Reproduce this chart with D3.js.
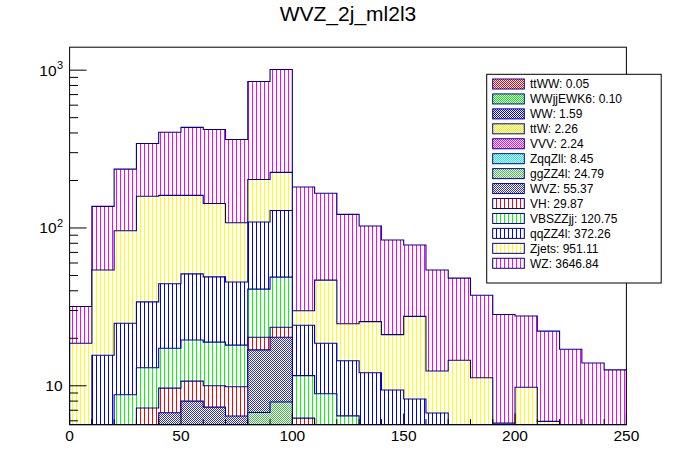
<!DOCTYPE html>
<html>
<head>
<meta charset="utf-8">
<script src="https://cdn.jsdelivr.net/npm/d3@7"></script>
<style>
  body { margin: 0; background: #fff; }
  text { font-family: "Liberation Sans", Arial, sans-serif; }
</style>
</head>
<body>
<script>
// bin edges (GeV)
var binEdges = [0, 10, 20, 30, 40, 50, 60, 70, 80, 90, 100, 110, 120, 130, 140, 150, 160, 170, 180, 190, 200, 210, 220, 230, 240, 250];

// per-bin yields, bottom of stack first
var ttWW     = [0, 0, 0, 0, 0.01, 0.01, 0.01, 0.01, 0.01, 0, 0, 0, 0, 0, 0, 0, 0, 0, 0, 0, 0, 0, 0, 0, 0];
var WWjjEWK6 = [0, 0, 0, 0.02, 0.02, 0.02, 0.02, 0.02, 0, 0, 0, 0, 0, 0, 0, 0, 0, 0, 0, 0, 0, 0, 0, 0, 0];
var WW       = [0, 0.1, 0.1, 0.1, 0.15, 0.15, 0.15, 0.1, 0.2, 0.2, 0.1, 0.06, 0.05, 0.04, 0.03, 0.02, 0.02, 0.01, 0.01, 0, 0, 0, 0, 0, 0];
var ttW      = [0, 0.05, 0.1, 0.15, 0.2, 0.2, 0.2, 0.15, 0.2, 0.2, 0.15, 0.12, 0.1, 0.08, 0.06, 0.05, 0.05, 0.04, 0.03, 0.03, 0.02, 0.02, 0.02, 0.02, 0.02];
var VVV      = [0.02, 0.05, 0.08, 0.1, 0.12, 0.12, 0.12, 0.12, 0.24, 0.26, 0.15, 0.12, 0.1, 0.09, 0.08, 0.07, 0.06, 0.06, 0.05, 0.05, 0.04, 0.04, 0.04, 0.03, 0.03];
var ZqqZll   = [0.1, 0.3, 0.4, 0.5, 0.6, 0.6, 0.6, 0.5, 1.0, 1.1, 0.6, 0.5, 0.4, 0.3, 0.25, 0.2, 0.15, 0.1, 0.1, 0.05, 0.05, 0.02, 0.02, 0.01, 0];
var ggZZ4l   = [0.1, 0.3, 0.7, 1.0, 1.2, 1.4, 1.3, 1.2, 5.13, 6.13, 1.4, 1.23, 0.8, 0.6, 0.5, 0.4, 0.3, 0.3, 0.2, 0.2, 0.1, 0.1, 0.1, 0.05, 0.05];
var WVZ      = [0.2, 0.5, 1.0, 2.0, 4.45, 5.5, 4.93, 4.33, 10.12, 12.41, 2.5, 2.0, 1.5, 1.0, 0.8, 0.6, 0.5, 0.3, 0.2, 0.15, 0.1, 0.1, 0.08, 0.05, 0.05];
var VH       = [0.3, 1.0, 2.0, 3.36, 2.92, 2.7, 2.67, 3.43, 3.4, 3.2, 1.34, 1.2, 0.8, 0.5, 0.4, 0.25, 0.15, 0.1, 0.05, 0.05, 0.05, 0, 0, 0, 0];
var VBSZZjj  = [1.5, 3.0, 4.39, 5.77, 7.63, 8.8, 8.9, 8.24, 20.7, 25.3, 5.36, 3.67, 2.7, 2.8, 2.5, 2.2, 1.9, 1.5, 1.2, 0.9, 0.7, 0.5, 0.3, 0.2, 0.09];
var qqZZ4l   = [3.0, 10.3, 16.13, 21.0, 27.0, 31.7, 30.1, 27.4, 68.0, 80.2, 12.6, 9.7, 7.95, 6.69, 4.78, 4.45, 3.59, 2.5, 1.8, 1.2, 0.8, 0.6, 0.4, 0.3, 0.07];
var Zjets    = [13.4, 38.6, 71.1, 125, 116.7, 109.8, 94, 62.5, 94, 96, 5.7, 28.1, 10.3, 13.4, 11.7, 19.3, 5.7, 9.6, 7.6, 3.17, 7.94, 4.57, 0.5, 0.3, 0.2];
var WZ       = [13.2, 82.8, 140, 184, 243, 273, 278, 256, 645, 784, 152.1, 119.3, 97.3, 77.5, 62.9, 50.5, 41.8, 33.6, 26.2, 22.5, 17.9, 16.25, 15.6, 13.0, 12.1];

// legend: names and integrated yields as printed
var names  = ["ttWW", "WWjjEWK6", "WW", "ttW", "VVV", "ZqqZll", "ggZZ4l", "WVZ", "VH", "VBSZZjj", "qqZZ4l", "Zjets", "WZ"];
var totals = [0.05, 0.10, 1.59, 2.26, 2.24, 8.45, 24.79, 55.37, 29.87, 120.75, 372.26, 951.11, 3646.84];
var yDecades = [10, 100, 1000];
var xTicks = [0, 50, 100, 150, 200, 250];

var seriesData = [ttWW, WWjjEWK6, WW, ttW, VVV, ZqqZll, ggZZ4l, WVZ, VH, VBSZZjj, qqZZ4l, Zjets, WZ];
var styles = [
    {c: "#ff0000", p: "cross"}, {c: "#00ee00", p: "cross"}, {c: "#0000ff", p: "cross"},
    {c: "#eeee00", p: "cross"}, {c: "#ff00ff", p: "cross"}, {c: "#00eeee", p: "cross"},
    {c: "#44bb44", p: "cross"}, {c: "#3333bb", p: "cross"},
    {c: "#ff0000", p: "vert"}, {c: "#00ff00", p: "vert"}, {c: "#0000ff", p: "vert"},
    {c: "#ffff00", p: "vert"}, {c: "#ff00ff", p: "vert"}
];
var lineColor = "#000099";
var hatchStep = 4;

var w = 696, h = 472;
var padL = 69.6, padR = 626.4, padT = 47.2, padB = 424.8;

var svg = d3.select("body").append("svg")
    .attr("width", w)
    .attr("height", h);

var xScale = d3.scaleLinear().domain([0, 250]).range([padL, padR]);
var yScale = d3.scaleLog().domain([5.66, 1398]).range([padB, padT]).clamp(true);

// checkered patterns for the small backgrounds
var defs = svg.append("defs");
styles.forEach(function (s, i) {
    if (s.p !== "cross") return;
    var pat = defs.append("pattern")
        .attr("id", "pat" + i)
        .attr("patternUnits", "userSpaceOnUse")
        .attr("width", 2).attr("height", 2);
    pat.append("rect").attr("width", 2).attr("height", 2).attr("fill", "#fff");
    pat.append("rect").attr("width", 1).attr("height", 1).attr("fill", s.c);
    pat.append("rect").attr("x", 1).attr("y", 1).attr("width", 1).attr("height", 1).attr("fill", s.c);
});

defs.append("clipPath").attr("id", "frameClip")
    .append("rect")
    .attr("x", padL).attr("y", padT)
    .attr("width", padR - padL).attr("height", padB - padT);

// vertical hatching drawn as lines inside a clip
function hatchFill(parent, clipId, x0, x1, y0, y1, color) {
    var g = parent.append("g").attr("clip-path", "url(#" + clipId + ")");
    g.append("rect")
        .attr("x", x0).attr("y", y0)
        .attr("width", x1 - x0).attr("height", y1 - y0)
        .attr("fill", "#fff");
    var n0 = Math.floor(x0 / hatchStep), n1 = Math.ceil(x1 / hatchStep);
    for (var n = n0; n <= n1; n++) {
        var xx = n * hatchStep + 0.5;
        g.append("line")
            .attr("x1", xx).attr("x2", xx)
            .attr("y1", y0).attr("y2", y1)
            .attr("stroke", color)
            .attr("stroke-width", 1)
            .attr("shape-rendering", "crispEdges");
    }
}

// cumulative stack
var stacks = [];
var run = binEdges.slice(1).map(function () { return 0; });
seriesData.forEach(function (s) {
    run = run.map(function (v, i) { return v + s[i]; });
    stacks.push(run.slice());
});

function stepPath(cum) {
    var p = "M" + xScale(binEdges[0]) + "," + padB;
    cum.forEach(function (v, i) {
        var yy = yScale(Math.max(v, 1e-3));
        p += "L" + xScale(binEdges[i]) + "," + yy + "L" + xScale(binEdges[i + 1]) + "," + yy;
    });
    p += "L" + xScale(binEdges[binEdges.length - 1]) + "," + padB;
    return p;
}

var plot = svg.append("g").attr("clip-path", "url(#frameClip)");
for (var k = stacks.length - 1; k >= 0; k--) {
    if (styles[k].p === "vert") {
        defs.append("clipPath").attr("id", "area" + k)
            .append("path").attr("d", stepPath(stacks[k]) + "Z");
        hatchFill(plot, "area" + k, padL, padR, padT, padB, styles[k].c);
    } else {
        plot.append("path")
            .attr("d", stepPath(stacks[k]) + "Z")
            .attr("fill", "url(#pat" + k + ")")
            .attr("stroke", "none");
    }
    plot.append("path")
        .attr("d", stepPath(stacks[k]))
        .attr("fill", "none")
        .attr("stroke", lineColor)
        .attr("stroke-width", 1.1);
}

// frame
svg.append("rect")
    .attr("x", padL).attr("y", padT)
    .attr("width", padR - padL).attr("height", padB - padT)
    .attr("fill", "none")
    .attr("stroke", "#000")
    .attr("stroke-width", 1);

// y axis ticks (log)
var yAxis = svg.append("g");
var yMin = yScale.domain()[0], yMax = yScale.domain()[1];
[1].concat(yDecades).forEach(function (d) {
    for (var m = 1; m <= 9; m++) {
        var v = d * m;
        if (v < yMin || v > yMax) continue;
        yAxis.append("line")
            .attr("x1", padL).attr("x2", padL + (m === 1 ? 17 : 8.5))
            .attr("y1", yScale(v)).attr("y2", yScale(v))
            .attr("stroke", "#000");
    }
});
yDecades.forEach(function (d) {
    yAxis.append("text")
        .attr("x", d === 10 ? padL - 7 : padL - 13)
        .attr("y", yScale(d) + 5.5)
        .attr("text-anchor", "end")
        .attr("font-size", "15.5px")
        .text("10");
    if (d > 10) {
        yAxis.append("text")
            .attr("x", padL - 12.5)
            .attr("y", yScale(d) - 1)
            .attr("font-size", "11px")
            .text(String(Math.round(Math.log10(d))));
    }
});

// x axis ticks
var xAxis = svg.append("g");
d3.range(0, 251, 10).forEach(function (v) {
    var major = xTicks.indexOf(v) >= 0;
    xAxis.append("line")
        .attr("x1", xScale(v)).attr("x2", xScale(v))
        .attr("y1", padB).attr("y2", padB - (major ? 11.3 : 5.7))
        .attr("stroke", "#000");
});
xTicks.forEach(function (v) {
    xAxis.append("text")
        .attr("x", xScale(v))
        .attr("y", 441)
        .attr("text-anchor", "middle")
        .attr("font-size", "15.5px")
        .text(v);
});

// title
svg.append("text")
    .attr("x", w / 2)
    .attr("y", 21)
    .attr("text-anchor", "middle")
    .attr("font-size", "21px")
    .text("WVZ_2j_ml2l3");

// legend
var lg = svg.append("g");
lg.append("rect")
    .attr("x", 486.7).attr("y", 74.3)
    .attr("width", 174.5).attr("height", 208.7)
    .attr("fill", "#fff")
    .attr("stroke", "#000");
names.forEach(function (n, i) {
    var cy = 84 + 14.94 * i;
    var sx = 492.7, sw = 31.6;
    if (styles[i].p === "vert") {
        defs.append("clipPath").attr("id", "sw" + i)
            .append("rect")
            .attr("x", sx).attr("y", cy - 5)
            .attr("width", sw).attr("height", 10);
        hatchFill(lg, "sw" + i, sx, sx + sw, cy - 5, cy + 5, styles[i].c);
    }
    lg.append("rect")
        .attr("x", sx).attr("y", cy - 5)
        .attr("width", sw).attr("height", 10)
        .attr("fill", styles[i].p === "vert" ? "none" : "url(#pat" + i + ")")
        .attr("stroke", lineColor);
    lg.append("text")
        .attr("x", 530)
        .attr("y", cy + 4.3)
        .attr("font-size", "12px")
        .text(n + ": " + totals[i].toFixed(2));
});
</script>
</body>
</html>
